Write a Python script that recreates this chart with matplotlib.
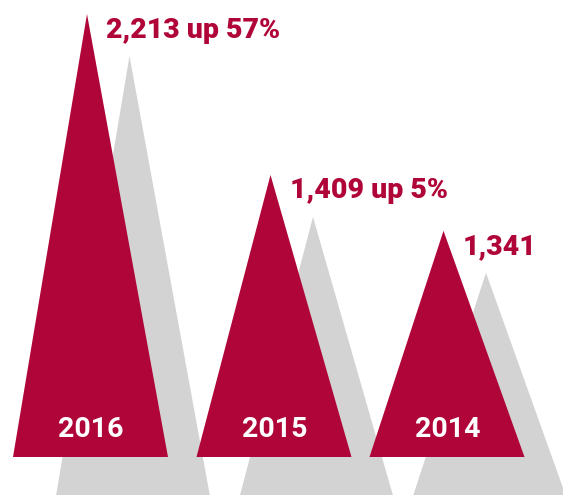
import matplotlib
matplotlib.use("Agg")
from matplotlib import pyplot as plt
from matplotlib.patches import Polygon

# data
years = ["2016", "2015", "2014"]
values = [2213, 1409, 1341]
labels = ["2,213 up 57%", "1,409 up 5%", "1,341"]
# drawn heights (2014 is drawn shorter than its value in the original)
drawn = [2213, 1409, 1130]

# layout (pixel x units, value units on y)
centers = [90.5, 274, 447]
skew = -3.5
half_w = 77.5
px = 2213 / 443.0          # value units per pixel vertically
shadow_dx = 42.5
shadow_dy = -42 * px

red = "#B00538"
grey = "#D3D3D3"

plt.rcParams['font.family'] = ['Roboto', 'DejaVu Sans']

fig = plt.figure(figsize=(5.63, 4.95), dpi=100)
ax = fig.add_axes([0, 0, 1, 1])
ax.set_xlim(0, 563)
ax.set_ylim(-38 * px, 2213 + 14 * px)
ax.axis('off')

# shadows first so they sit behind every red triangle
for c, h in zip(centers, drawn):
    pts = [(c - half_w + shadow_dx, shadow_dy),
           (c + half_w + shadow_dx, shadow_dy),
           (c + skew + shadow_dx, h + shadow_dy)]
    ax.add_patch(Polygon(pts, closed=True, fc=grey, ec='none', zorder=1))

for c, h, yr, lab in zip(centers, drawn, years, labels):
    pts = [(c - half_w, 0), (c + half_w, 0), (c + skew, h)]
    ax.add_patch(Polygon(pts, closed=True, fc=red, ec='none', zorder=2))
    ax.text(c + 0.5, 20 * px, yr, color='white', fontsize=20.5, fontweight='bold',
            ha='center', va='baseline', zorder=3)
    ax.text(c + skew + 19.5, h - 23.5 * px, lab, color=red, fontsize=20.5,
            fontweight='black', ha='left', va='baseline', zorder=3)

fig.savefig("out.png", dpi=100)
